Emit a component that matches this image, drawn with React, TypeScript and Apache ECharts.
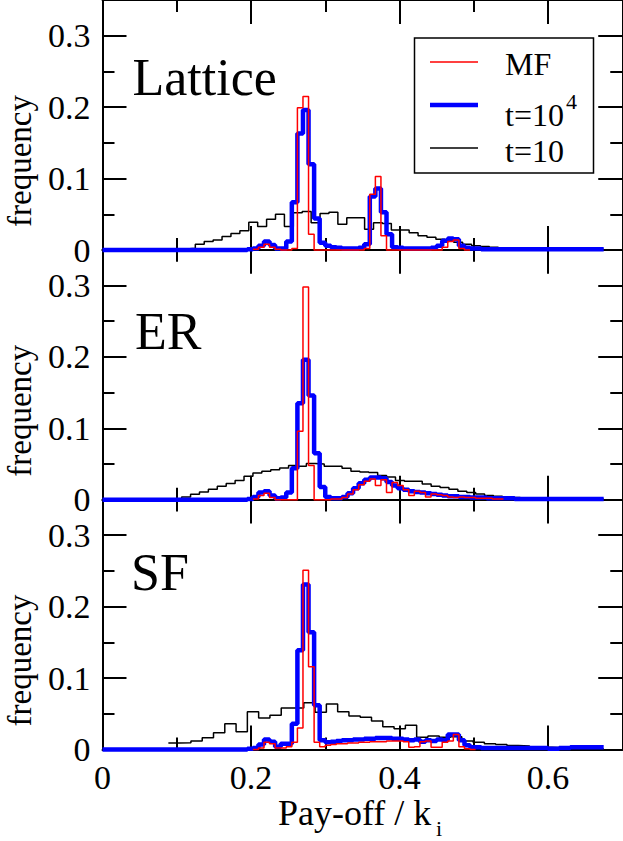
import React, { useEffect, useRef } from "react";
import * as echarts from "echarts";

const W = 623;
const H = 841;
const X_MAX = 0.7;
const Y_MAX = 0.35;
const TAIL_END = 0.675;
const FINE_W = 0.0075; // bin width of MF and t=10^4 histograms
const FONT = "Liberation Serif";

const panelNames = ["Lattice", "ER", "SF"];
const legendNames = ["MF", "t=10^4", "t=10"];
const xTickLabels = ["0", "0.2", "0.4", "0.6"];
const yTickLabels = ["0", "0.1", "0.2", "0.3"];

// ---------------- Lattice ----------------
const latticeBlackStart = 0.089;
const latticeBlackW = 0.012;
const latticeBlack = [
  0.001, 0.0015, 0.0024, 0.008, 0.012, 0.014, 0.019, 0.023, 0.027, 0.039, 0.033, 0.043, 0.05, 0.033,
  0.052, 0.054, 0.038, 0.051, 0.053, 0.036, 0.045, 0.045, 0.029, 0.038, 0.037, 0.028, 0.028, 0.024,
  0.02, 0.018, 0.015, 0.013, 0.011, 0.008, 0.006, 0.005, 0.004, 0.003, 0.002, 0.0015, 0.001, 0.001, 0.001,
];
const latticeBlueStart = 0.195;
const latticeBlue = [
  0.001, 0.002, 0.006, 0.012, 0.007, 0.002, 0.002, 0.012, 0.067, 0.163, 0.196, 0.12, 0.044, 0.01,
  0.006, 0.004, 0.003, 0.002, 0.002, 0.002, 0.003, 0.008, 0.075, 0.086, 0.053, 0.022, 0.004, 0.003,
  0.002, 0.002, 0.002, 0.002, 0.002, 0.003, 0.006, 0.013, 0.016, 0.015, 0.006, 0.003, 0.002, 0.002, 0.001,
];
const latticeRedStart = 0.2025;
const latticeRed = [
  0.001, 0.004, 0.008, 0.004, 0.001, 0, 0, 0.002, 0.199, 0.215, 0.022, 0, 0, 0, 0, 0, 0, 0, 0, 0,
  0.002, 0.078, 0.103, 0.02, 0, 0, 0, 0, 0, 0, 0, 0, 0, 0, 0.004, 0.012, 0.014, 0.002, 0,
];

// ---------------- ER ----------------
const erBlackStart = 0.0946;
const erBlackW = 0.012;
const erBlack = [
  0.0005, 0.004, 0.0077, 0.011, 0.0147, 0.019, 0.0227, 0.027, 0.033, 0.0376, 0.04, 0.042, 0.0445, 0.048,
  0.047, 0.0507, 0.05, 0.047, 0.047, 0.044, 0.04, 0.039, 0.038, 0.034, 0.032, 0.027, 0.026, 0.026,
  0.022, 0.019, 0.017, 0.0147, 0.012, 0.01, 0.008, 0.006, 0.005, 0.004, 0.003, 0.002, 0.0015, 0.001, 0.001,
];
const erBlueStart = 0.195;
const erBlue = [
  0.001, 0.004, 0.01, 0.012, 0.006, 0.002, 0.003, 0.01, 0.044, 0.135, 0.196, 0.146, 0.065, 0.018,
  0.004, 0.002, 0.002, 0.004, 0.009, 0.016, 0.023, 0.028, 0.031, 0.031, 0.03, 0.025, 0.02, 0.016,
  0.014, 0.012, 0.011, 0.01, 0.009, 0.008, 0.007, 0.006, 0.005, 0.005, 0.004, 0.004, 0.003, 0.003,
  0.003, 0.002, 0.002, 0.002, 0.002, 0.002, 0.001,
];
const erRedStart = 0.2025;
const erRed = [
  0.001, 0.006, 0.009, 0.003, 0, 0, 0, 0, 0.096, 0.298, 0.048, 0, 0, 0, 0.001, 0.001, 0.003, 0.008,
  0.014, 0.021, 0.026, 0.029, 0.02, 0.028, 0.01, 0.024, 0.02, 0.014, 0.006, 0.012, 0.01, 0.004, 0.008,
  0.007, 0.006, 0.004, 0.003, 0.004, 0.003, 0.003, 0.002, 0.002, 0.002, 0.001, 0.001,
];

// ---------------- SF ----------------
const sfBlackStart = 0.0887;
const sfBlackW = 0.0152;
const sfBlack = [
  0.009, 0.0095, 0.012, 0.0165, 0.0235, 0.036, 0.025, 0.053, 0.044, 0.048, 0.058, 0.058, 0.0655, 0.052,
  0.0637, 0.053, 0.047, 0.045, 0.04, 0.032, 0.029, 0.034, 0.017, 0.019, 0.017, 0.018, 0.012, 0.01,
  0.008, 0.007, 0.0055, 0.005, 0.004, 0.003, 0.0025, 0.002, 0.0015, 0.001,
];
const sfBlueStart = 0.195;
const sfBlue = [
  0.001, 0.002, 0.007, 0.014, 0.011, 0.004, 0.008, 0.008, 0.036, 0.139, 0.231, 0.164, 0.062, 0.013,
  0.01, 0.011, 0.012, 0.013, 0.013, 0.014, 0.014, 0.015, 0.015, 0.016, 0.016, 0.016, 0.015, 0.015,
  0.014, 0.013, 0.014, 0.011, 0.013, 0.012, 0.014, 0.013, 0.021, 0.021, 0.013, 0.006, 0.003, 0.003,
  0.002, 0.002, 0.002, 0.002, 0.002, 0.002, 0.002, 0.002, 0.002, 0.002, 0.002, 0.002, 0.001, 0.001,
  0.002, 0.002, 0.003, 0.003, 0.003, 0.003, 0.003,
];
const sfRedStart = 0.2025;
const sfRed = [
  0, 0.002, 0.01, 0.008, 0.002, 0.002, 0.004, 0.01, 0.03, 0.251, 0.116, 0.01, 0.004, 0.006, 0.007,
  0.008, 0.008, 0.009, 0.009, 0.01, 0.01, 0.011, 0.011, 0.011, 0.012, 0.012, 0.012, 0.011, 0.003,
  0.004, 0.011, 0.012, 0.003, 0.003, 0.01, 0.012, 0.021, 0.004, 0.001, 0,
];

type Pt = [number, number];
function hist(start: number, width: number, values: number[], fromZero: boolean, tailTo?: number): Pt[] {
  const pts: Pt[] = [];
  if (fromZero) pts.push([0, 0]);
  values.forEach((v, k) => pts.push([start + k * width, v]));
  const end = start + values.length * width;
  const last = values[values.length - 1];
  pts.push([end, last]);
  if (tailTo !== undefined && tailTo > end) pts.push([tailTo, last]);
  return pts;
}

const panels = [
  {
    black: hist(latticeBlackStart, latticeBlackW, latticeBlack, false, TAIL_END),
    blue: hist(latticeBlueStart, FINE_W, latticeBlue, true, TAIL_END),
    red: hist(latticeRedStart, FINE_W, latticeRed, false),
  },
  {
    black: hist(erBlackStart, erBlackW, erBlack, false, TAIL_END),
    blue: hist(erBlueStart, FINE_W, erBlue, true, TAIL_END),
    red: hist(erRedStart, FINE_W, erRed, false),
  },
  {
    black: hist(sfBlackStart, sfBlackW, sfBlack, false, TAIL_END),
    blue: hist(sfBlueStart, FINE_W, sfBlue, true, TAIL_END),
    red: hist(sfRedStart, FINE_W, sfRed, false),
  },
];

const GRID_LEFT = 102.5;
const GRID_W = 519.75;
const PANEL_STEP = 249.75;
const PANEL_H = 250;

function fmtX(v: number): string {
  const idx = Math.round(v / 0.2);
  if (Math.abs(v - idx * 0.2) > 1e-6) return "";
  return xTickLabels[idx] ?? "";
}
function fmtY(v: number): string {
  const idx = Math.round(v / 0.1);
  if (Math.abs(v - idx * 0.1) > 1e-6) return "";
  return yTickLabels[idx] ?? "";
}

export default function App() {
  const ref = useRef<HTMLDivElement>(null);
  useEffect(() => {
    if (!ref.current) return;
    const chart = echarts.init(ref.current, undefined, { renderer: "svg" });
    const grids: any[] = [];
    const xAxes: any[] = [];
    const yAxes: any[] = [];
    const series: any[] = [];
    const labelStyle = { fontFamily: FONT, fontSize: 34, color: "#000" };
    const lineCol = { color: "#000", width: 2 };

    panels.forEach((p, i) => {
      grids.push({
        left: GRID_LEFT,
        top: PANEL_STEP * i,
        width: GRID_W,
        height: PANEL_H,
        containLabel: false,
        outerBoundsMode: "none",
      });
      const xBase = (pos: string, interval: number, len: number, showLine: boolean, showLabel: boolean) => ({
        type: "value",
        gridIndex: i,
        position: pos,
        min: 0,
        max: X_MAX,
        interval,
        axisLine: { show: showLine, onZero: false, lineStyle: lineCol },
        axisTick: { show: true, inside: true, length: len, lineStyle: lineCol },
        minorTick: { show: false },
        splitLine: { show: false },
        axisLabel: showLabel
          ? { show: true, formatter: fmtX, margin: 11, ...labelStyle, showMaxLabel: true, showMinLabel: true }
          : { show: false },
      });
      xAxes.push(xBase("bottom", 0.2, 24, true, i === 2));
      xAxes.push(xBase("bottom", 0.1, 12, false, false));
      xAxes.push(xBase("top", 0.2, 24, true, false));
      xAxes.push(xBase("top", 0.1, 12, false, false));
      const yBase = (pos: string, interval: number, len: number, showLine: boolean, showLabel: boolean) => ({
        type: "value",
        gridIndex: i,
        position: pos,
        min: 0,
        max: Y_MAX,
        interval,
        axisLine: { show: showLine, onZero: false, lineStyle: lineCol },
        axisTick: { show: true, inside: true, length: len, lineStyle: lineCol },
        minorTick: { show: false },
        splitLine: { show: false },
        axisLabel: showLabel
          ? { show: true, formatter: fmtY, margin: 12, ...labelStyle, showMaxLabel: true, showMinLabel: true }
          : { show: false },
      });
      yAxes.push(yBase("left", 0.1, 24, true, true));
      yAxes.push(yBase("left", 0.05, 12, false, false));
      yAxes.push(yBase("right", 0.1, 24, true, false));
      yAxes.push(yBase("right", 0.05, 12, false, false));

      const common = {
        type: "line",
        xAxisIndex: 4 * i,
        yAxisIndex: 4 * i,
        step: "end",
        symbol: "none",
        showSymbol: false,
        clip: false,
        silent: true,
      };
      series.push({ ...common, name: legendNames[2], data: p.black, z: 3, lineStyle: { color: "#000000", width: 1.5 } });
      series.push({ ...common, name: legendNames[1], data: p.blue, z: 4, lineStyle: { color: "#0000ff", width: 4.5 } });
      series.push({ ...common, name: legendNames[0], data: p.red, z: 5, lineStyle: { color: "#ff0000", width: 1.5 } });
    });

    const txt = (text: string, x: number, y: number, size: number, extra: any = {}) => ({
      type: "text",
      x,
      y,
      z: 100,
      silent: true,
      ...extra,
      style: {
        text,
        fontFamily: FONT,
        fontSize: size,
        fill: "#000",
        align: extra.align ?? "left",
        textAlign: extra.align ?? "left",
        verticalAlign: "middle",
        textVerticalAlign: "middle",
      },
    });

    const graphic: any[] = [
      {
        type: "rect",
        z: 90,
        silent: true,
        shape: { x: 414.5, y: 38, width: 179, height: 135 },
        style: { fill: "#fff", stroke: "#000", lineWidth: 1.5 },
      },
      { type: "line", z: 95, silent: true, shape: { x1: 430, y1: 62, x2: 478, y2: 62 }, style: { stroke: "#ff0000", lineWidth: 1.5 } },
      { type: "line", z: 95, silent: true, shape: { x1: 430, y1: 105, x2: 478, y2: 105 }, style: { stroke: "#0000ff", lineWidth: 4.5 } },
      { type: "line", z: 95, silent: true, shape: { x1: 430, y1: 148, x2: 478, y2: 148 }, style: { stroke: "#000", lineWidth: 1.5 } },
      txt(legendNames[0], 505, 63.5, 32),
      txt("t=10", 505, 114.5, 32),
      txt("4", 566, 101, 22),
      txt(legendNames[2], 505, 151, 32),
      txt(panelNames[0], 132.5, 77.5, 52),
      txt(panelNames[1], 135, 331.7, 52),
      txt(panelNames[2], 131, 572, 52),
      txt("Pay-off / k", 278, 813, 36),
      txt("i", 436, 828, 22),
    ];
    [0, 1, 2].forEach((i) => {
      graphic.push(txt("frequency", 20, 161 + PANEL_STEP * i, 33, { rotation: Math.PI / 2, align: "center" }));
    });

    chart.setOption({
      animation: false,
      backgroundColor: "#fff",
      grid: grids,
      xAxis: xAxes,
      yAxis: yAxes,
      series,
      graphic,
    });
    return () => chart.dispose();
  }, []);
  return (
    <div
      ref={ref}
      style={{ position: "fixed", left: 0, top: 0, width: W, height: H, background: "#fff" }}
    />
  );
}
